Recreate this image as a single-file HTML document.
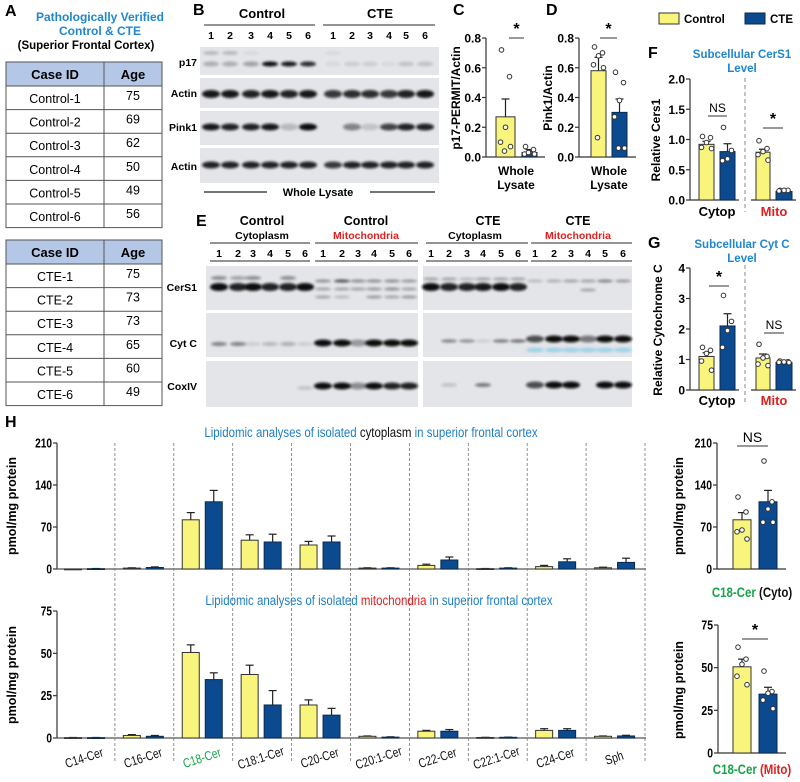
<!DOCTYPE html>
<html><head><meta charset="utf-8">
<style>
html,body{margin:0;padding:0;background:#fff;}
svg{display:block;font-family:"Liberation Sans",Arial,sans-serif;}
.b{font-weight:bold;}
</style></head>
<body>
<svg id="fig" width="800" height="782" viewBox="0 0 800 782" xmlns="http://www.w3.org/2000/svg">
<defs>
<filter id="blur" x="-50%" y="-200%" width="200%" height="500%"><feGaussianBlur stdDeviation="1.3"/></filter>
</defs>
<g>
<text x="5" y="16" font-size="16" class="b">A</text>
<text x="100" y="21" font-size="12" class="b" fill="#1f86cf" text-anchor="middle">Pathologically Verified</text>
<text x="100" y="35" font-size="12" class="b" fill="#1f86cf" text-anchor="middle">Control &amp; CTE</text>
<text x="86" y="49" font-size="11.5" class="b" text-anchor="middle">(Superior Frontal Cortex)</text>
<g id="tables"></g>
</g>
<g>
<text x="193" y="15" font-size="16" class="b">B</text>
<text x="262" y="18" font-size="13" class="b" text-anchor="middle">Control</text>
<text x="380" y="18" font-size="13" class="b" text-anchor="middle">CTE</text>
<line x1="204" y1="25" x2="315" y2="25" stroke="#555" stroke-width="1.2"/>
<line x1="323" y1="25" x2="435" y2="25" stroke="#555" stroke-width="1.2"/>
<g id="blotB"></g>
<line x1="204" y1="192" x2="267" y2="192" stroke="#222" stroke-width="1.2"/>
<text x="318" y="196" font-size="11" class="b" text-anchor="middle">Whole Lysate</text>
<line x1="370" y1="192" x2="435" y2="192" stroke="#222" stroke-width="1.2"/>
</g>
<g>
<text x="196" y="226" font-size="16" class="b">E</text>
<text x="262" y="225" font-size="12.5" class="b" text-anchor="middle">Control</text>
<text x="262" y="239" font-size="10.5" class="b" text-anchor="middle">Cytoplasm</text>
<text x="366" y="225" font-size="12.5" class="b" text-anchor="middle">Control</text>
<text x="366" y="239" font-size="10.5" class="b" fill="#e02020" text-anchor="middle">Mitochondria</text>
<text x="488" y="225" font-size="12.5" class="b" text-anchor="middle">CTE</text>
<text x="475" y="239" font-size="10.5" class="b" text-anchor="middle">Cytoplasm</text>
<text x="578" y="225" font-size="12.5" class="b" text-anchor="middle">CTE</text>
<text x="578" y="239" font-size="10.5" class="b" fill="#e02020" text-anchor="middle">Mitochondria</text>
<g id="blotE"></g>
</g>
<g>
<rect x="659" y="13" width="20" height="11" fill="#f9f47c" stroke="#333"/>
<text x="684" y="23" font-size="11.5" class="b">Control</text>
<rect x="745" y="13" width="20" height="11" fill="#0b4a8e" stroke="#0a2a50"/>
<text x="770" y="23" font-size="11.5" class="b">CTE</text>
</g>
<text x="648" y="58" font-size="16" class="b">F</text>
<text x="742" y="58" font-size="11.5" class="b" fill="#1f86cf" text-anchor="middle">Subcellular CerS1</text>
<text x="742" y="72" font-size="11.5" class="b" fill="#1f86cf" text-anchor="middle">Level</text>
<text x="648" y="248" font-size="16" class="b">G</text>
<text x="742" y="248" font-size="11.5" class="b" fill="#1f86cf" text-anchor="middle">Subcellular Cyt C</text>
<text x="742" y="262" font-size="11.5" class="b" fill="#1f86cf" text-anchor="middle">Level</text>
<text x="453" y="15" font-size="16" class="b">C</text>
<text x="546" y="15" font-size="16" class="b">D</text>
<text x="5" y="427" font-size="16" class="b">H</text>
<g id="charts"></g>
</svg>
<script>
const NS="http://www.w3.org/2000/svg";
function el(tag,attrs,parent,txt){const e=document.createElementNS(NS,tag);for(const k in attrs)e.setAttribute(k,attrs[k]);if(txt!==undefined)e.textContent=txt;(parent||document.getElementById('charts')).appendChild(e);return e;}
const YEL="#f9f47c",BLU="#0b4a8e";
function cond(x,f){return `translate(${x},0) scale(${f||0.8},1) translate(${-x},0)`;}

// ---------- Tables ----------
const ctrlIds=["Control-1","Control-2","Control-3","Control-4","Control-5","Control-6"];
const ctrlAges=[75,69,62,50,49,56];
const cteIds=["CTE-1","CTE-2","CTE-3","CTE-4","CTE-5","CTE-6"];
const cteAges=[75,73,73,65,60,49];
function table(top,ids,ages,name){
  const g=el('g',{},document.getElementById('tables'));
  
  
  const rh=23.6;
  el('rect',{x:6,y:top,width:156,height:24,fill:"#b4c7e7"},g);
  el('text',{x:55,y:top+17,'font-size':13,'font-weight':'bold','text-anchor':'middle'},g,"Case ID");
  el('text',{x:133,y:top+17,'font-size':13,'font-weight':'bold','text-anchor':'middle'},g,"Age");
  ids.forEach((id,i)=>{const y=top+24+i*rh;
    el('line',{x1:6,y1:y,x2:162,y2:y,stroke:"#555"},g);
    el('text',{x:55,y:y+17,'font-size':12.5,'text-anchor':'middle'},g,id);
    el('text',{x:133,y:y+14,'font-size':12.5,'text-anchor':'middle'},g,String(ages[i]));
  });
  const h=24+ids.length*rh;
  el('rect',{x:6,y:top,width:156,height:h,fill:"none",stroke:"#555"},g);
  el('line',{x1:104,y1:top,x2:104,y2:top+h,stroke:"#555"},g);
}
table(62,ctrlIds,ctrlAges,'control-case-table');
table(240,cteIds,cteAges,'cte-case-table');

// ---------- Blots ----------
function blot(parent,x1,x2,y1,y2){el('rect',{x:x1,y:y1,width:x2-x1,height:y2-y1,fill:"#e4e5e9"},parent);}
function bands(parent,lanes,y,vals,w,h,col){lanes.forEach((lx,i)=>{if(vals[i]<=0)return;
  el('ellipse',{cx:lx,cy:y,rx:w,ry:h,fill:col||"#0c0c0c",opacity:vals[i],filter:"url(#blur)"},parent);});}
function laneNums(parent,lanes,y){lanes.forEach((lx,i)=>el('text',{x:lx,y:y,'font-size':10.5,'font-weight':'bold','text-anchor':'middle'},parent,String(i%6+1)));}
(function(){
 const g=document.getElementById('blotB');
 const cL=[211,230,251,270,289,308], tL=[333,352,370,389,406,425];
 laneNums(g,cL.concat(tL),39);
 blot(g,200,439,47,75);blot(g,200,439,78,108);blot(g,200,439,111,145);blot(g,200,439,148,183);
 const all=cL.concat(tL);
 bands(g,all,64,[0.25,0.25,0.3,1,0.95,0.85,0.05,0.1,0.1,0.05,0.15,0.15],8,2.5);
 bands(g,all,53,[0.2,0.2,0.05,0,0,0,0.05,0,0,0,0,0],8,2);
 bands(g,all,94,[0.95,0.95,0.9,0.95,0.9,0.95,0.8,0.85,0.85,0.8,0.9,0.95],9,4);
 bands(g,all,127,[0.95,0.9,0.9,0.95,0.2,1,0,0.45,0.15,0.75,0.9,0.9],9,3.5);
 bands(g,all,165,[0.9,0.9,0.9,0.9,0.9,0.9,0.8,0.9,0.9,0.9,0.9,0.9],9,3.5);
 [["p17",66],["Actin",97],["Pink1",131],["Actin",170]].forEach(a=>el('text',{x:197,y:a[1],'font-size':10.5,'font-weight':'bold','text-anchor':'end'},g,a[0]));
})();
(function(){
 const g=document.getElementById('blotE');
 const cc=[219,238,253,270,288,305], cm=[323,342,358,374,392,409];
 const tc=[431,449,467,483,501,518], tm=[535,554,571,588,605,623];
 [[210,310],[315,418],[426,528],[531,632]].forEach(s=>{el('line',{x1:s[0],y1:243,x2:s[1],y2:243,stroke:"#555","stroke-width":1.2},g);el('line',{x1:s[0],y1:261,x2:s[1],y2:261,stroke:"#555","stroke-width":1.2},g);});
 laneNums(g,cc.concat(cm,tc,tm),257);
 [[206,418],[423,632]].forEach(s=>{blot(g,s[0],s[1],266,310);blot(g,s[0],s[1],313,357);blot(g,s[0],s[1],361,407);});
 bands(g,cc,287,[1,0.9,1,0.9,0.9,1],9,4);
 bands(g,cc,278,[0.4,0.3,0.4,0,0.4,0],8,2);
 bands(g,cm,281,[0.4,0.7,0.4,0.4,0.4,0.35],8,1.5);
 bands(g,cm,289,[0.3,0.3,0.3,0.35,0.4,0.3],8,1.5);
 bands(g,cm,297,[0.3,0.2,0,0.35,0.3,0.35],8,1.5);
 bands(g,cc,344,[0.45,0.45,0.1,0.2,0.25,0.1],8,2);
 bands(g,cm,343,[1,1,0.35,1,1,1],9,3.5);
 bands(g,cc,388,[0,0,0,0,0,0.15],8,2);
 bands(g,cm,386,[1,1,0.4,1,0.9,0.9],9,3.5);
 bands(g,tc,287,[1,0.9,0.9,0.95,1,0.9],9,4);
 bands(g,tc,279,[0.3,0.3,0.2,0.3,0.3,0.3],8,1.5);
 bands(g,tm,281,[0.2,0.25,0.3,0.3,0.45,0.35],8,1.5);
 bands(g,tm,290,[0,0,0,0.3,0,0],8,1.5);
 bands(g,tc,341,[0,0.45,0.4,0.1,0.5,0.55],8,1.6);
 bands(g,tm,339,[0.7,1,1,0.5,1,1],9,3.5);
 bands(g,tm,350,[0.5,0.5,0.5,0.5,0.5,0.5],9,2.5,"#5cc3e6");
 bands(g,tc,385,[0,0.15,0,0.5,0,0],8,2);
 bands(g,tm,385,[0.7,1,1,0,1,1],9,3.5);
 [["CerS1",291],["Cyt C",347],["CoxIV",390]].forEach(a=>el('text',{x:197,y:a[1],'font-size':10.5,'font-weight':'bold','text-anchor':'end'},g,a[0]));
})();

// ---------- Generic axis / bars ----------
const JIT=[-4,4,0,-5,5,-1];
function yAxis(ax,py0,py1,vmax,ticks,labels,fs,cf){
  const s=v=>py0-(v/vmax)*(py0-py1);
  const a=el('line',{x1:ax,y1:py1,x2:ax,y2:py0,stroke:"#333","stroke-width":1.2});
  
  ticks.forEach((t,i)=>{const y=s(t);el('line',{x1:ax-4,y1:y,x2:ax,y2:y,stroke:"#333","stroke-width":1.2});
    const at={x:ax-5,y:y+4.5,'font-size':fs||12,'font-weight':'bold','text-anchor':'end'};
    if(cf)at.transform=cond(ax-5,cf);
    const tl=el('text',at,undefined,labels[i]);
    });
  return s;
}
function bar(s,x1,x2,mean,top,color,pts,name,py0){
  const yt=s(top),ym=s(mean);
  if(top>mean){el('line',{x1:(x1+x2)/2,y1:yt,x2:(x1+x2)/2,y2:ym,stroke:"#222","stroke-width":1.2});
    el('line',{x1:(x1+x2)/2-4,y1:yt,x2:(x1+x2)/2+4,y2:yt,stroke:"#222","stroke-width":1.2});}
  const r=el('rect',{x:x1,y:ym,width:x2-x1,height:Math.max(0.8,py0-ym),fill:color,stroke:color===YEL?"#333":"#0a2a50","stroke-width":1});
  
  
  (pts||[]).forEach((p,i)=>{const c=el('circle',{cx:(x1+x2)/2+JIT[i%6],cy:s(p),r:2.3,fill:"#fff",stroke:"#333","stroke-width":1});
    });
}
function ylabel(x,y,t,fs){const e=el('text',{x:x,y:y,'font-size':fs||12,'font-weight':'bold','text-anchor':'middle',transform:`rotate(-90 ${x} ${y})`},undefined,t);}
function sig(x1,x2,y,t,fs){el('line',{x1:x1,y1:y,x2:x2,y2:y,stroke:"#333","stroke-width":1});
  el('text',{x:(x1+x2)/2,y:y-4,'font-size':fs||13,'font-weight':t==='*'?'bold':'normal','text-anchor':'middle'},undefined,t);}

// ---------- Panel C ----------
const cTicks=[0,0.2,0.4,0.6,0.8];
const cCtrlMean=0.27, cCtrlTop=0.39, cCteMean=0.03, cCteTop=0.05;
const cCtrlPts=[0.72,0.54,0.20,0.10,0.07,0.04];
const cCtePts=[0.07,0.05,0.03,0.02,0.02,0.03];
{const s=yAxis(486,157,38,0.8,cTicks,cTicks.map(t=>t.toFixed(1)),12);
 el('line',{x1:486,y1:157,x2:545,y2:157,stroke:"#333","stroke-width":1.2});
 bar(s,496,515,cCtrlMean,cCtrlTop,YEL,cCtrlPts,'bar-c-control',157);
 bar(s,522,537,cCteMean,cCteTop,BLU,cCtePts,'bar-c-cte',157);
 ylabel(460,98,"p17-PERMIT/Actin",12);sig(509,524,38,"*",16);
 el('text',{x:516,y:175,'font-size':12,'font-weight':'bold','text-anchor':'middle'},undefined,"Whole");
 el('text',{x:516,y:189,'font-size':12,'font-weight':'bold','text-anchor':'middle'},undefined,"Lysate");}
// ---------- Panel D ----------
const dCtrlMean=0.58, dCtrlTop=0.67, dCteMean=0.30, dCteTop=0.39;
const dCtrlPts=[0.74,0.70,0.68,0.62,0.60,0.13];
const dCtePts=[0.57,0.50,0.38,0.27,0.06,0.06];
{const s=yAxis(579,157,38,0.8,cTicks,cTicks.map(t=>t.toFixed(1)),12);
 el('line',{x1:579,y1:157,x2:636,y2:157,stroke:"#333","stroke-width":1.2});
 bar(s,591,606,dCtrlMean,dCtrlTop,YEL,dCtrlPts,'bar-d-control',157);
 bar(s,612,627,dCteMean,dCteTop,BLU,dCtePts,'bar-d-cte',157);
 ylabel(552,98,"Pink1/Actin",12);sig(600,617,38,"*",16);
 el('text',{x:609,y:175,'font-size':12,'font-weight':'bold','text-anchor':'middle'},undefined,"Whole");
 el('text',{x:609,y:189,'font-size':12,'font-weight':'bold','text-anchor':'middle'},undefined,"Lysate");}
// ---------- Panel F ----------
const fTicks=[0,0.5,1,1.5,2];
const fMeans=[0.92,0.80,0.79,0.14], fTops=[0.97,0.93,0.84,0.15];
const fPts=[[1.05,1.03,0.95,0.87,0.85],[1.2,0.82,0.68,0.65],[0.98,0.85,0.80,0.75,0.66],[0.16,0.16,0.16,0.15]];
{const s=yAxis(690,200,79,2,fTicks,fTicks.map(t=>t.toFixed(1)),12);
 const xs=[[699,714],[720,735],[756,770],[776,792]];
 el('line',{x1:690,y1:200,x2:739,y2:200,stroke:"#333","stroke-width":1.2});
 el('line',{x1:751,y1:200,x2:796,y2:200,stroke:"#333","stroke-width":1.2});
 xs.forEach((x,i)=>bar(s,x[0],x[1],fMeans[i],fTops[i],i%2?BLU:YEL,fPts[i],'bar-f-'+i,200));
 el('line',{x1:745,y1:78,x2:745,y2:212,stroke:"#888","stroke-dasharray":"4,3"});
 ylabel(660,140,"Relative Cers1",12);sig(708,727,116,"NS",12);sig(763,783,128,"*",16);
 el('text',{x:717,y:216,'font-size':13,'font-weight':'bold','text-anchor':'middle'},undefined,"Cytop");
 el('text',{x:774,y:216,'font-size':13,'font-weight':'bold','fill':'#e02020','text-anchor':'middle'},undefined,"Mito");}
// ---------- Panel G ----------
const gTicks=[0,1,2,3,4];
const gMeans=[1.1,2.1,1.05,0.9], gTops=[1.22,2.5,1.18,0.95];
const gPts=[[1.4,1.3,1.2,0.95,0.65],[3.1,2.25,1.95,1.4],[1.5,1.1,1.05,0.85,0.8],[0.95,0.93,0.92,0.91,0.9]];
{const s=yAxis(690,390,268,4,gTicks,gTicks.map(String),12);
 const xs=[[699,714],[720,735],[756,770],[776,792]];
 el('line',{x1:690,y1:390,x2:739,y2:390,stroke:"#333","stroke-width":1.2});
 el('line',{x1:751,y1:390,x2:796,y2:390,stroke:"#333","stroke-width":1.2});
 xs.forEach((x,i)=>bar(s,x[0],x[1],gMeans[i],gTops[i],i%2?BLU:YEL,gPts[i],'bar-g-'+i,390));
 el('line',{x1:745,y1:265,x2:745,y2:402,stroke:"#888","stroke-dasharray":"4,3"});
 ylabel(662,330,"Relative Cytochrome C",12);sig(709,729,286,"*",16);sig(764,784,333,"NS",12);
 el('text',{x:717,y:405,'font-size':13,'font-weight':'bold','text-anchor':'middle'},undefined,"Cytop");
 el('text',{x:774,y:405,'font-size':13,'font-weight':'bold','fill':'#e02020','text-anchor':'middle'},undefined,"Mito");}

// ---------- Panel H ----------
const lipids=["C14-Cer","C16-Cer","C18-Cer","C18:1-Cer","C20-Cer","C20:1-Cer","C22-Cer","C22:1-Cer","C24-Cer","Sph"];
const cytoCtrl=[0,1.5,82,48,40,1.5,6,0.5,4,2];
const cytoCtrlTop=[0,2,94,57,46,2,8,0.8,6,3];
const cytoCte=[0.5,2.5,112,45,45,1.5,15,1.5,12,11];
const cytoCteTop=[0.8,3.5,131,58,55,2,20,2,17,18];
const mitoCtrl=[0.2,1.5,50.5,37.5,19.5,1,4,0.3,4.5,1];
const mitoCtrlTop=[0.3,2,55,43,22.5,1.2,4.5,0.4,5.5,1.2];
const mitoCte=[0.2,1,34.5,19.5,13.5,0.5,4,0.4,4.5,1.2];
const mitoCteTop=[0.3,1.5,38.5,28,17.5,0.7,5,0.5,5.5,1.6];
const cytoTicks=[0,70,140,210], mitoTicks=[0,25,50,75];
{
 const X0=56,STEP=58.9;
 const sT=yAxis(57,569,443,210,cytoTicks,cytoTicks.map(String),13,0.78);
 const sB=yAxis(57,738,611,75,mitoTicks,mitoTicks.map(String),13,0.78);
 el('line',{x1:57,y1:569,x2:646,y2:569,stroke:"#555","stroke-width":1.2});
 el('line',{x1:57,y1:738,x2:646,y2:738,stroke:"#555","stroke-width":1.2});
 for(let i=1;i<=10;i++){const x=X0+STEP*i;el('line',{x1:x,y1:443,x2:x,y2:762,stroke:"#777","stroke-dasharray":"3,2","stroke-width":0.8});}
 lipids.forEach((n,i)=>{const c=X0+STEP*(i+0.5);
   bar(sT,c-21,c-4,cytoCtrl[i],cytoCtrlTop[i],YEL,null,'bar-cyto-control-'+n,569);
   bar(sT,c+2,c+19,cytoCte[i],cytoCteTop[i],BLU,null,'bar-cyto-cte-'+n,569);
   bar(sB,c-21,c-4,mitoCtrl[i],mitoCtrlTop[i],YEL,null,'bar-mito-control-'+n,738);
   bar(sB,c+2,c+19,mitoCte[i],mitoCteTop[i],BLU,null,'bar-mito-cte-'+n,738);
   const t=el('text',{x:c,y:762,'font-size':13,'text-anchor':'middle',fill:n==="C18-Cer"?"#1aa34a":"#111",transform:`rotate(-18 ${c} 762) `+cond(c,0.8)},undefined,n);
   
 });
 ylabel(16,506,"pmol/mg protein",12.5);ylabel(16,675,"pmol/mg protein",12.5);
 const t1=el('text',{x:371,y:437,'font-size':13.5,'text-anchor':'middle',fill:"#1f7fc7",transform:cond(371,0.85)});
 
 el('tspan',{},t1,"Lipidomic analyses of isolated ");el('tspan',{fill:"#111"},t1,"cytoplasm");el('tspan',{},t1," in superior frontal cortex");
 const t2=el('text',{x:379,y:605,'font-size':13.5,'text-anchor':'middle',fill:"#1f7fc7",transform:cond(379,0.85)});
 
 el('tspan',{},t2,"Lipidomic analyses of isolated ");el('tspan',{fill:"#e02020"},t2,"mitochondria");el('tspan',{},t2," in superior frontal cortex");
}
// Small C18 charts
const c18CytoCtrlPts=[120,95,65,62,50], c18CytoCtePts=[180,112,100,78,78];
const c18MitoCtrlPts=[62,55,52,45,40], c18MitoCtePts=[48,36,35,31,26];
{
 const s1=yAxis(717,569,443,210,cytoTicks,cytoTicks.map(String),13,0.8);
 el('line',{x1:717,y1:569,x2:786,y2:569,stroke:"#333","stroke-width":1.2});
 bar(s1,733,751,cytoCtrl[2],cytoCtrlTop[2],YEL,c18CytoCtrlPts,'bar-c18-cyto-control',569);
 bar(s1,759,777,cytoCte[2],cytoCteTop[2],BLU,c18CytoCtePts,'bar-c18-cyto-cte',569);
 sig(737,768,446,"NS",14);ylabel(683,506,"pmol/mg protein",12.5);
 const a=el('text',{x:752,y:597,'font-size':14,'font-weight':'bold','text-anchor':'middle',fill:"#1aa34a",transform:cond(752,0.82)});
 el('tspan',{},a,"C18-Cer ");el('tspan',{fill:"#111"},a,"(Cyto)");
 const s2=yAxis(718,753,625,75,mitoTicks,mitoTicks.map(String),13,0.8);
 el('line',{x1:718,y1:753,x2:786,y2:753,stroke:"#333","stroke-width":1.2});
 bar(s2,733,751,mitoCtrl[2],mitoCtrlTop[2],YEL,c18MitoCtrlPts,'bar-c18-mito-control',753);
 bar(s2,759,777,mitoCte[2],mitoCteTop[2],BLU,c18MitoCtePts,'bar-c18-mito-cte',753);
 sig(742,768,639,"*",16);ylabel(683,690,"pmol/mg protein",12.5);
 const b=el('text',{x:752,y:774,'font-size':14,'font-weight':'bold','text-anchor':'middle',fill:"#1aa34a",transform:cond(752,0.82)});
 el('tspan',{},b,"C18-Cer ");el('tspan',{fill:"#e02020"},b,"(Mito)");
}
</script>
</body></html>
